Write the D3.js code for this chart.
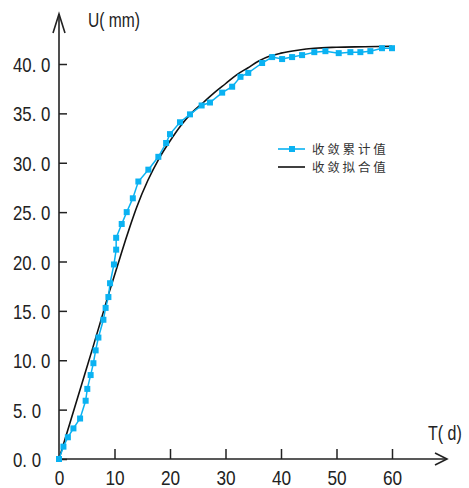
<!DOCTYPE html>
<html>
<head>
<meta charset="utf-8">
<script src="https://cdn.jsdelivr.net/npm/d3@7"></script>
<style>
  body { margin: 0; background: #fff; }
  svg text { font-family: "Liberation Sans", Arial, sans-serif; }
</style>
</head>
<body>
<div id="chart"></div>
<script>
// measured settlement (收敛累计值)
const days = [0, 0.8, 1.6, 2.6, 3.8, 4.8, 5.1, 5.7, 6.2, 6.6, 7.1, 8.0, 8.4, 8.9, 9.2, 9.9,
  10.3, 10.3, 11.3, 12.2, 13.3, 14.3, 16.1, 17.9, 19.3, 20.0, 21.8, 23.6, 25.7, 27.2,
  29.4, 31.2, 32.7, 34.1, 36.6, 38.4, 40.2, 42.0, 43.8, 46.0, 48.0, 50.4, 52.5, 54.3,
  56.1, 58.2, 60.0];
const measured = [0, 1.25, 2.2, 3.1, 4.1, 5.9, 7.1, 8.5, 9.7, 11.0, 12.3, 14.1, 15.3, 16.4,
  17.8, 19.7, 21.2, 22.4, 23.8, 25.0, 26.4, 28.1, 29.3, 30.6, 32.0, 32.9, 34.1, 34.9,
  35.8, 36.1, 37.1, 37.7, 38.7, 39.1, 40.1, 40.7, 40.5, 40.7, 40.9, 41.2, 41.3, 41.1,
  41.2, 41.2, 41.3, 41.6, 41.6];

// fitted curve (收敛拟合值)
const fitDays = [0, 2, 4, 6, 8, 9, 10, 11, 12, 13, 14, 16, 18, 20, 22, 24, 26, 28, 30,
  32, 34, 36, 38, 40, 43, 46, 50, 55, 60];
const fitted = [0, 3.7, 7.4, 11.1, 14.9, 16.8, 18.6, 20.4, 22.2, 23.9, 25.5, 28.2, 30.4,
  32.2, 33.8, 35.1, 36.1, 37.1, 38.0, 38.9, 39.6, 40.3, 40.8, 41.1, 41.4, 41.6, 41.7,
  41.75, 41.8];

const xTicks = [0, 10, 20, 30, 40, 50, 60];
const yTicks = [0, 5, 10, 15, 20, 25, 30, 35, 40];
const legendNames = ["收敛累计值", "收敛拟合值"];

const w = 469;
const h = 488;
const blue = "#0ab2f2";
const ink = "#222";

const svg = d3
  .select("#chart")
  .append("svg")
  .attr("width", w)
  .attr("height", h);

const x = d3.scaleLinear().domain([0, 60]).range([59, 392]);
const y = d3.scaleLinear().domain([0, 40]).range([459, 64]);

// squeeze text horizontally (narrow look of the original)
function squeeze(sel, k) {
  sel.each(function () {
    const len = this.getComputedTextLength();
    d3.select(this)
      .attr("textLength", len * k)
      .attr("lengthAdjust", "spacingAndGlyphs");
  });
}

// y axis, ticks pointing inward, labels left aligned
const yAxis = svg
  .append("g")
  .attr("transform", `translate(${x(0)},0)`)
  .call(
    d3.axisLeft(y)
      .tickValues(yTicks)
      .tickSize(-8)
      .tickFormat((d) => d3.format(".1f")(d).replace(".", ". "))
  );
yAxis.select(".domain").remove();
yAxis.selectAll(".tick line").attr("stroke", ink).attr("stroke-width", 1.5);
yAxis
  .selectAll(".tick text")
  .attr("text-anchor", "start")
  .attr("x", 13 - 59)
  .attr("dy", "0.36em")
  .style("font-size", "21px")
  .attr("fill", ink)
  .call(squeeze, 0.8);

// x axis
const xAxis = svg
  .append("g")
  .attr("transform", `translate(0,${y(0)})`)
  .call(d3.axisBottom(x).tickValues(xTicks).tickSize(-10).tickPadding(11));
xAxis.select(".domain").remove();
xAxis.selectAll(".tick line").attr("stroke", ink).attr("stroke-width", 1.5);
xAxis.select(".tick line").remove();
xAxis
  .selectAll(".tick text")
  .style("font-size", "21px")
  .attr("fill", ink)
  .call(squeeze, 0.82);

// axis lines with open arrow heads
const axes = svg.append("g").attr("fill", "none").attr("stroke", ink).attr("stroke-width", 1.6);
axes.append("line").attr("x1", x(0)).attr("y1", y(0)).attr("x2", x(0)).attr("y2", 14);
axes.append("polyline").attr("points", `${x(0) - 6},33 ${x(0)},14 ${x(0) + 6},33`);
axes.append("line").attr("x1", x(0)).attr("y1", y(0)).attr("x2", 447).attr("y2", y(0));
axes.append("polyline").attr("points", `435,${y(0) - 6} 447,${y(0)} 435,${y(0) + 6}`);

svg.append("text")
  .attr("x", 88)
  .attr("y", 27)
  .style("font-size", "20px")
  .attr("fill", ink)
  .text("U( mm)")
  .call(squeeze, 0.78);

svg.append("text")
  .attr("x", 428)
  .attr("y", 440)
  .style("font-size", "20px")
  .attr("fill", ink)
  .text("T( d)")
  .call(squeeze, 0.8);

// fitted curve
const fitLine = d3
  .line()
  .x((d) => x(d[0]))
  .y((d) => y(d[1]))
  .curve(d3.curveMonotoneX);

svg.append("path")
  .datum(d3.zip(fitDays, fitted))
  .attr("d", fitLine)
  .attr("fill", "none")
  .attr("stroke", "#111")
  .attr("stroke-width", 1.6);

// measured series
const pts = d3.zip(days, measured);
svg.append("path")
  .datum(pts)
  .attr("d", d3.line().x((d) => x(d[0])).y((d) => y(d[1])))
  .attr("fill", "none")
  .attr("stroke", blue)
  .attr("stroke-width", 1.5);

svg.append("g")
  .selectAll("rect")
  .data(pts)
  .join("rect")
  .attr("x", (d) => x(d[0]) - 3)
  .attr("y", (d) => y(d[1]) - 3)
  .attr("width", 6)
  .attr("height", 6)
  .attr("fill", blue);

// legend
const legend = svg.append("g").attr("transform", "translate(278,149)");
const item = legend
  .selectAll("g")
  .data(legendNames)
  .join("g")
  .attr("transform", (d, i) => `translate(0,${i * 18})`);

item.append("line")
  .attr("x1", 0)
  .attr("x2", 27)
  .attr("stroke", (d, i) => (i === 0 ? blue : "#111"))
  .attr("stroke-width", 1.6);
item.filter((d, i) => i === 0)
  .append("rect")
  .attr("x", 11)
  .attr("y", -3)
  .attr("width", 6)
  .attr("height", 6)
  .attr("fill", blue);
item.append("text")
  .attr("x", 34)
  .attr("dy", "0.36em")
  .style("font-family", "'Noto Sans CJK SC', sans-serif")
  .style("font-size", "12.5px")
  .style("letter-spacing", "2.8px")
  .attr("fill", "#333")
  .text((d) => d);
</script>
</body>
</html>
